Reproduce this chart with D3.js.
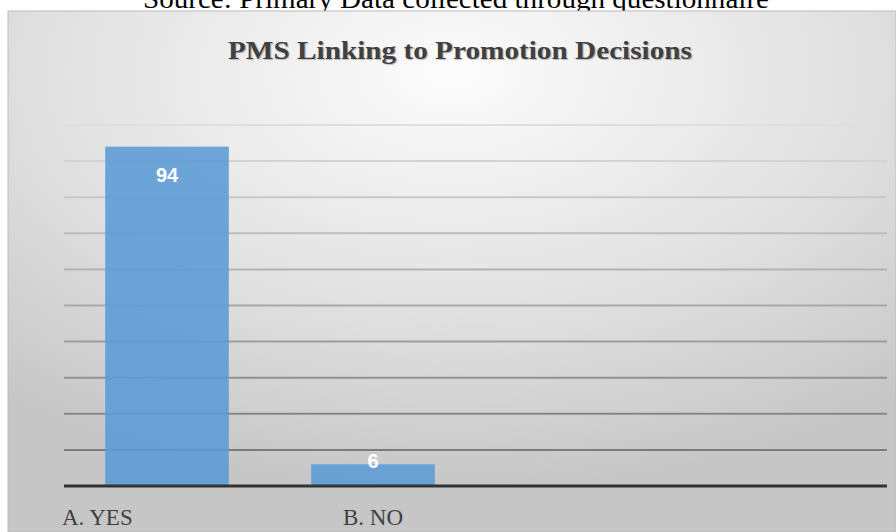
<!DOCTYPE html>
<html>
<head>
<meta charset="utf-8">
<script src="https://cdn.jsdelivr.net/npm/d3@7"></script>
<style>
  body { margin: 0; background: #fff; }
  svg { display: block; }
  .serif { font-family: "Liberation Serif", "DejaVu Serif", serif; }
  .sans { font-family: "Liberation Sans", "DejaVu Sans", sans-serif; }
</style>
</head>
<body>
<svg class="chart"></svg>
<script>
const categories = ["A. YES", "B. NO"];
const values = [94, 6];
const yTicks = [10, 20, 30, 40, 50, 60, 70, 80, 90, 100];
const title = "PMS Linking  to Promotion Decisions";
const source = "Source: Primary Data collected through questionnaire";

const width = 896;
const height = 532;

const svg = d3.select(".chart")
    .attr("width", width)
    .attr("height", height);

// panel background
const defs = svg.append("defs");
const grad = defs.append("radialGradient")
    .attr("id", "bg")
    .attr("cx", 0.5).attr("cy", 0.12).attr("r", 0.8);
grad.append("stop").attr("offset", 0).attr("stop-color", "#fcfcfc");
grad.append("stop").attr("offset", 0.55).attr("stop-color", "#e2e2e2");
grad.append("stop").attr("offset", 1).attr("stop-color", "#c6c6c6");

svg.append("text")
    .attr("class", "serif")
    .attr("x", 456)
    .attr("y", 8)
    .attr("text-anchor", "middle")
    .attr("font-size", 28)
    .attr("textLength", 626)
    .attr("lengthAdjust", "spacingAndGlyphs")
    .attr("fill", "#000")
    .text(source);

svg.append("rect")
    .attr("x", 8).attr("y", 11)
    .attr("width", width - 8).attr("height", height - 11)
    .attr("fill", "url(#bg)")
    .attr("stroke", "#bcbcbc")
    .attr("stroke-width", 1);

svg.append("text")
    .attr("class", "serif")
    .attr("x", 460)
    .attr("y", 59)
    .attr("text-anchor", "middle")
    .attr("font-weight", "bold")
    .attr("font-size", 26)
    .attr("textLength", 464)
    .attr("lengthAdjust", "spacingAndGlyphs")
    .attr("fill", "#404040")
    .style("text-shadow", "1px 1px 1px rgba(0,0,0,0.25)")
    .text(title);

const left = 64, right = 887;
const x = d3.scaleBand()
    .domain(categories)
    .range([left, left + 412])
    .paddingInner(0.4)
    .paddingOuter(0.2);

const y = d3.scaleLinear()
    .domain([0, 100])
    .range([486, 125]);

const gridColor = d3.scaleLinear()
    .domain([100, 10])
    .range(["#dedede", "#7c7c7c"]);

svg.append("g")
    .selectAll("line")
    .data(yTicks)
    .join("line")
    .attr("x1", left).attr("x2", right)
    .attr("y1", d => y(d)).attr("y2", d => y(d))
    .attr("stroke", d => gridColor(d))
    .attr("stroke-width", 2);

svg.append("g")
    .selectAll("rect")
    .data(values)
    .join("rect")
    .attr("x", (d, i) => x(categories[i]))
    .attr("width", x.bandwidth())
    .attr("y", d => y(d))
    .attr("height", d => y(0) - y(d))
    .attr("fill", "#5b9bd5")
    .attr("fill-opacity", 0.88);

svg.append("line")
    .attr("x1", left).attr("x2", right)
    .attr("y1", y(0)).attr("y2", y(0))
    .attr("stroke", "#333")
    .attr("stroke-width", 3);

svg.append("g")
    .selectAll("text")
    .data(values)
    .join("text")
    .attr("class", "sans")
    .attr("x", (d, i) => x(categories[i]) + x.bandwidth() / 2)
    .attr("y", d => Math.min(y(d) + 35, y(0) - 18))
    .attr("text-anchor", "middle")
    .attr("font-weight", "bold")
    .attr("font-size", 20)
    .attr("fill", "#fff")
    .text(d => d);

svg.append("g")
    .selectAll("text")
    .data(categories)
    .join("text")
    .attr("class", "serif")
    .attr("x", (d, i) => i === 0 ? 62 : x(d) + x.bandwidth() / 2)
    .attr("y", 525)
    .attr("text-anchor", (d, i) => i === 0 ? "start" : "middle")
    .attr("font-size", 23)
    .attr("fill", "#404040")
    .text(d => d);
</script>
</body>
</html>
